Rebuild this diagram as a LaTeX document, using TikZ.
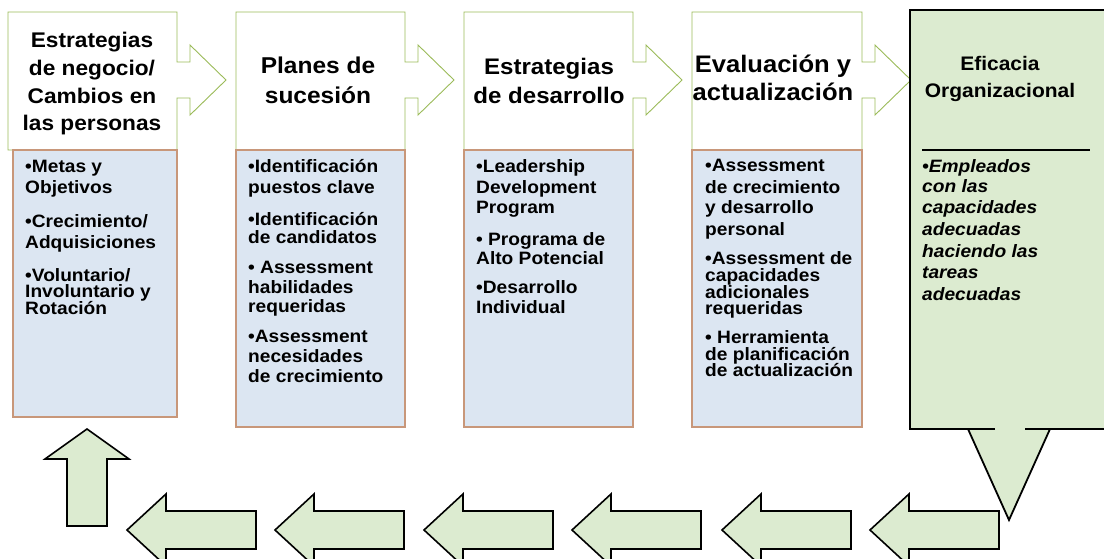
\documentclass[tikz,border=0pt]{standalone}
\usepackage{fontspec}
\setmainfont{Liberation Sans}[FakeStretch=1.07]
\definecolor{boxgreen}{HTML}{9BBB59}
\definecolor{lightblue}{HTML}{DCE6F2}
\definecolor{boxbrown}{HTML}{C8977A}
\definecolor{arrowgreen}{HTML}{DCEBD0}
\tikzset{
  topbox/.style={fill=white, draw=boxgreen, line width=0.9pt, line join=miter},
  bluebox/.style={fill=lightblue, draw=boxbrown, line width=1.1pt},
  blockarrow/.style={fill=arrowgreen, draw=black, line width=1.6pt, line join=miter},
  title/.style={font=\bfseries\fontsize{#1}{#1}\selectfont, anchor=base, inner sep=0pt},
  itemtext/.style={font=\bfseries\fontsize{17.9}{18}\selectfont, anchor=base west, inner sep=0pt},
  italtext/.style={font=\bfseries\itshape\fontsize{17.9}{18}\selectfont, anchor=base west, inner sep=0pt}
}
\begin{document}
\begin{tikzpicture}[x=1pt,y=-1pt]
\useasboundingbox (0,0) rectangle (1104,558);
\clip (0,0) rectangle (1104,558);

% top boxes with right arrow callouts
\foreach \L/\R in {8/177, 236/405, 464/633, 692/862}
  \draw[topbox] (\L,12) -- (\R,12) -- (\R,62) -- ({\R+13},62) -- ({\R+13},45)
     -- ({\R+49},80) -- ({\R+13},115) -- ({\R+13},98) -- (\R,98) -- (\R,150)
     -- (\L,150) -- cycle;

% blue boxes
\draw[bluebox] (13,150) rectangle (177,417);
\draw[bluebox] (236,150) rectangle (405,427);
\draw[bluebox] (464,150) rectangle (633,427);
\draw[bluebox] (692,150) rectangle (862,427);

% green box with down arrow
\fill[arrowgreen] (910,10) rectangle (1120,429);
\fill[arrowgreen] (968,428) -- (1009,520) -- (1050,428) -- cycle;
\draw[black, line width=2pt, line join=miter] (995,429) -- (910,429) -- (910,10) -- (1120,10) -- (1120,429) -- (1025,429);
\draw[black, line width=1.8pt, line join=miter] (968,429) -- (1009,520) -- (1050,429);
\draw[black, line width=1.2pt] (922,150) -- (1090,150);

% bottom left arrows
\foreach \T in {127,275,424,572,722,870}
  \draw[blockarrow] (\T,530) -- ({\T+39},494) -- ({\T+39},511) -- ({\T+129},511)
     -- ({\T+129},549) -- ({\T+39},549) -- ({\T+39},566) -- cycle;

% up arrow
\draw[blockarrow] (87,429) -- (129,459) -- (107,459) -- (107,526) -- (67,526)
   -- (67,459) -- (45,459) -- cycle;

% titles
\foreach \y/\t [count=\i] in {47/{Estrategias}, 75/{de negocio/}, 103/{Cambios en}, 130/{las personas}}
  \node[title=21.2] (ta\i) at (92,\y) {\t};
\foreach \y/\t [count=\i] in {73/{Planes de}, 103/{sucesión}}
  \node[title=22.9] (tb\i) at (318,\y) {\t};
\foreach \y/\t [count=\i] in {74/{Estrategias}, 103/{de desarrollo}}
  \node[title=22.5] (tc\i) at (549,\y) {\t};
\foreach \y/\t [count=\i] in {72/{Evaluación y}, 100/{actualización}}
  \node[title=23.9] (td\i) at (773,\y) {\t};
\foreach \y/\t [count=\i] in {70/{Eficacia}, 97/{Organizacional}}
  \node[title=19.6] (te\i) at (1000,\y) {\t};

% items
\foreach \y/\t [count=\i] in {172/{•Metas y}, 193/{Objetivos}, 227/{•Crecimiento/},
    248/{Adquisiciones}, 281/{•Voluntario/}, 297/{Involuntario y}, 314/{Rotación}}
  \node[itemtext] (ia\i) at (25,\y) {\t};
\foreach \y/\t [count=\i] in {172/{•Identificación}, 193/{puestos clave}, 225/{•Identificación},
    243/{de candidatos}, 273/{• Assessment}, 293/{habilidades}, 312/{requeridas},
    342/{•Assessment}, 362/{necesidades}, 382/{de crecimiento}}
  \node[itemtext] (ib\i) at (248,\y) {\t};
\foreach \y/\t [count=\i] in {172/{•Leadership}, 193/{Development}, 213/{Program},
    245/{• Programa de}, 264/{Alto Potencial}, 293/{•Desarrollo}, 313/{Individual}}
  \node[itemtext] (ic\i) at (476,\y) {\t};
\foreach \y/\t [count=\i] in {171/{•Assessment}, 193/{de crecimiento}, 213/{y desarrollo},
    235/{personal}, 264/{•Assessment de}, 281/{capacidades}, 298/{adicionales},
    314/{requeridas}, 343/{• Herramienta}, 360/{de planificación}, 376/{de actualización}}
  \node[itemtext] (id\i) at (705,\y) {\t};
\foreach \y/\t [count=\i] in {172/{•Empleados}, 192/{con las}, 213/{capacidades},
    235/{adecuadas}, 257/{haciendo las}, 278/{tareas}, 300/{adecuadas}}
  \node[italtext] (ie\i) at (922,\y) {\t};
\end{tikzpicture}
\end{document}
